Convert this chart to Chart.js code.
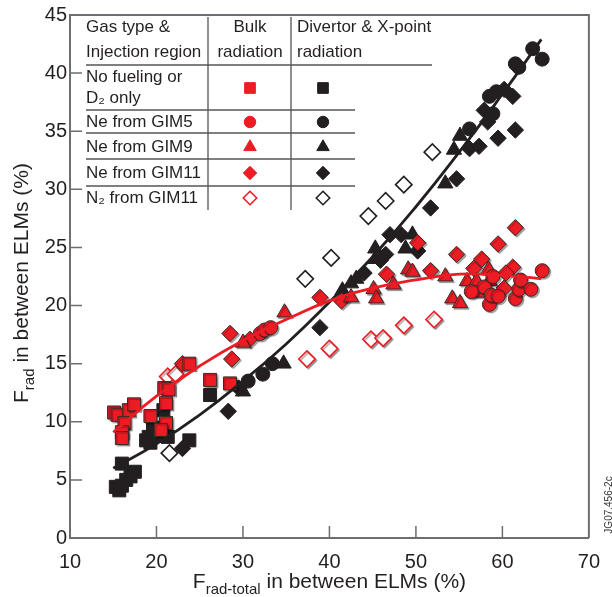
<!DOCTYPE html>
<html>
<head>
<meta charset="utf-8">
<script src="https://cdn.jsdelivr.net/npm/chart.js@4/dist/chart.umd.min.js"></script>
<style>
  html, body { margin: 0; padding: 0; background: #fff; }
  #wrap { position: relative; width: 612px; height: 597px; }
</style>
</head>
<body>
<div id="wrap"><canvas id="chart" width="612" height="597"></canvas></div>
<script>
// Ejes
const xTicks = [10, 20, 30, 40, 50, 60, 70];
const yTicks = [0, 5, 10, 15, 20, 25, 30, 35, 40, 45];

// Radiación en el bulk (rojo)  [F_rad-total, F_rad]
const bulkNoFuel = [[15.1,10.8],[15.5,10.6],[16.8,11.0],[17.4,11.5],[16.3,9.9],[16.0,9.1],[16.0,8.6],[19.3,10.5],[20.9,12.9],[21.4,12.8],[21.1,11.6],[21.1,9.9],[20.5,9.3],[23.8,15.0],[26.2,13.6],[28.5,13.3]];
const bulkNeGIM5 = [[32.0,17.6],[32.5,17.9],[33.2,18.1],[56.4,21.2],[57.9,21.6],[58.5,20.1],[58.7,20.9],[59.5,20.8],[58.9,22.5],[61.5,20.6],[61.9,21.4],[62.1,22.2],[63.3,21.4],[64.6,23.0]];
const bulkNeGIM9 = [[30.0,16.8],[34.8,19.4],[42.5,20.7],[45.1,21.4],[45.4,20.6],[47.4,21.8],[49.1,23.1],[49.6,22.9],[53.4,22.5],[54.2,20.6],[55.1,20.2],[55.9,22.1],[57.0,22.1],[58.5,22.1],[58.4,23.1],[57.3,21.1]];
const bulkNeGIM11 = [[23.0,15.0],[28.5,17.6],[28.7,15.4],[30.8,17.1],[38.9,20.7],[41.4,20.4],[46.6,22.7],[50.2,25.4],[51.7,23.0],[54.7,24.4],[56.7,23.2],[57.6,24.0],[59.5,25.3],[61.5,26.7],[61.2,23.3],[60.4,22.8],[60.2,21.5]];
const bulkN2GIM11 = [[21.3,13.9],[22.2,14.1],[37.4,15.4],[40.0,16.3],[44.8,17.1],[46.2,17.2],[48.6,18.3],[52.1,18.8]];

// Radiación divertor y punto X (negro)
const divNoFuel = [[15.3,4.4],[15.7,4.1],[16.0,4.5],[16.5,5.0],[17.0,5.3],[17.5,5.7],[16.0,6.4],[18.8,8.4],[19.1,8.7],[19.8,8.8],[19.3,8.2],[19.6,9.5],[20.8,11.0],[21.3,8.7],[23.8,8.4],[26.2,12.3]];
const divNeGIM5 = [[30.6,13.5],[32.3,14.1],[33.4,15.0],[56.2,35.2],[58.9,36.5],[58.5,38.0],[59.3,38.4],[61.5,40.8],[61.9,40.5],[63.5,42.1],[64.6,41.2]];
const divNeGIM9 = [[30.0,12.6],[34.7,15.0],[41.5,21.3],[42.5,21.9],[43.1,22.3],[45.3,24.9],[45.3,24.0],[48.8,24.9],[49.6,26.1],[53.4,30.5],[54.4,33.4],[55.1,34.6]];
const divNeGIM11 = [[23.0,7.7],[28.3,10.9],[29.5,12.9],[38.9,18.1],[44.0,22.8],[45.9,23.9],[46.5,24.4],[47.0,26.1],[48.3,26.1],[50.2,24.7],[51.7,28.4],[54.7,30.9],[56.2,33.5],[57.3,33.7],[57.9,36.8],[58.3,35.8],[59.5,34.4],[61.5,35.1],[60.2,38.6],[61.2,38.0]];
const divN2GIM11 = [[21.5,7.3],[37.2,22.3],[40.2,24.1],[44.5,27.7],[46.5,29.0],[48.6,30.4],[51.9,33.2]];

// Curvas de ajuste
const fitX = [15, 20, 25, 30, 35, 40, 45, 50, 55, 60, 64.5];
const fitBulkY = [9.1, 12.2, 14.8, 17.0, 18.8, 20.4, 21.5, 22.2, 22.7, 22.6, 22.3];
const fitDivY = [6.0, 8.1, 10.6, 13.5, 16.7, 20.3, 24.2, 28.5, 33.2, 38.2, 42.9];

// Tabla de leyenda
const legendRows = [
  { text: ['No fueling or', 'D\u2082 only'], style: 'rect', open: false },
  { text: ['Ne from GIM5'], style: 'circle', open: false },
  { text: ['Ne from GIM9'], style: 'triangle', open: false },
  { text: ['Ne from GIM11'], style: 'rectRot', open: false },
  { text: ['N\u2082 from GIM11'], style: 'rectRot', open: true }
];

const RED = '#ed1c24';
const BLACK = '#231f20';
const AXIS = '#6d6e71';
const FONT = 'Arial, "Liberation Sans", Helvetica, sans-serif';
const SIZES = { rect: 9.2, circle: 7, triangle: 8.8, rectRot: 8.2 };

const toPts = (arr) => arr.map(p => ({ x: p[0], y: p[1] }));
const fitPts = (ys) => fitX.map((x, i) => ({ x: x, y: ys[i] }));

function markerSet(data, style, color, open) {
  return {
    type: 'scatter',
    data: toPts(data),
    pointStyle: style,
    pointRadius: SIZES[style],
    pointHoverRadius: SIZES[style],
    backgroundColor: open ? '#ffffff' : color,
    borderColor: open ? color : (color === RED ? '#3a2a2a' : BLACK),
    borderWidth: open ? 1.6 : 1,
    isRed: color === RED
  };
}

function fitSet(ys, color) {
  return {
    type: 'line',
    data: fitPts(ys),
    borderColor: color,
    borderWidth: 2.8,
    pointRadius: 0,
    fill: false,
    tension: 0.5
  };
}

// Símbolo para la tabla (misma geometría que Chart.js)
function drawSymbol(c, style, x, y, r, fill, stroke, lw) {
  c.beginPath();
  if (style === 'rect') {
    const s = Math.SQRT1_2 * r;
    c.rect(x - s, y - s, 2 * s, 2 * s);
  } else if (style === 'circle') {
    c.arc(x, y, r, 0, Math.PI * 2);
  } else if (style === 'triangle') {
    for (let k = 0; k < 3; k++) {
      const a = k * 2 * Math.PI / 3;
      const px = x + Math.sin(a) * r, py = y - Math.cos(a) * r;
      if (k === 0) c.moveTo(px, py); else c.lineTo(px, py);
    }
    c.closePath();
  } else {
    c.moveTo(x, y - r); c.lineTo(x + r, y); c.lineTo(x, y + r); c.lineTo(x - r, y); c.closePath();
  }
  c.fillStyle = fill; c.fill();
  c.lineWidth = lw; c.strokeStyle = stroke; c.stroke();
}

// Texto con subíndice
function drawRich(c, parts, cx, cy) {
  let w = 0;
  parts.forEach(p => { c.font = p.size + 'px ' + FONT; p.w = c.measureText(p.t).width; w += p.w; });
  let x = cx - w / 2;
  c.textAlign = 'left';
  c.textBaseline = 'alphabetic';
  parts.forEach(p => {
    c.font = p.size + 'px ' + FONT;
    c.fillText(p.t, x, cy + (p.dy || 0));
    x += p.w;
  });
}

const shadowPlugin = {
  id: 'shadowPlugin',
  beforeDatasetDraw(chart, args) {
    const ds = chart.data.datasets[args.index];
    if (!ds.isRed) return;
    const c = chart.ctx;
    c.save();
    c.shadowColor = 'rgba(0,0,0,0.35)';
    c.shadowOffsetX = 1.5;
    c.shadowOffsetY = 1.5;
    c.shadowBlur = 1;
  },
  afterDatasetDraw(chart, args) {
    const ds = chart.data.datasets[args.index];
    if (ds.isRed) chart.ctx.restore();
  }
};

const overlay = {
  id: 'overlay',
  afterDraw(chart) {
    const c = chart.ctx;
    const a = chart.chartArea;
    const xs = chart.scales.x, ys = chart.scales.y;
    c.save();

    // Marco superior y derecho
    c.strokeStyle = AXIS;
    c.lineWidth = 2;
    c.beginPath();
    c.moveTo(a.left, a.top); c.lineTo(a.right, a.top); c.lineTo(a.right, a.bottom);
    c.stroke();

    // Marcas hacia dentro
    c.lineWidth = 1.5;
    c.beginPath();
    xTicks.slice(1, -1).forEach(v => {
      const px = xs.getPixelForValue(v);
      c.moveTo(px, a.bottom); c.lineTo(px, a.bottom - 12);
    });
    yTicks.slice(1, -1).forEach(v => {
      const py = ys.getPixelForValue(v);
      c.moveTo(a.left, py); c.lineTo(a.left + 12, py);
    });
    c.stroke();

    // Títulos de ejes
    c.fillStyle = '#231f20';
    drawRich(c, [
      { t: 'F', size: 21 },
      { t: 'rad-total', size: 15, dy: 6 },
      { t: ' in between ELMs (%)', size: 21 }
    ], (a.left + a.right) / 2, 588);
    c.save();
    c.translate(28, 283);
    c.rotate(-Math.PI / 2);
    drawRich(c, [
      { t: 'F', size: 21 },
      { t: 'rad', size: 15, dy: 6 },
      { t: ' in between ELMs (%)', size: 21 }
    ], 0, 0);
    c.restore();

    // Código de figura
    c.save();
    c.translate(609, 505);
    c.rotate(-Math.PI / 2);
    c.font = '10px ' + FONT;
    c.textAlign = 'center';
    c.textBaseline = 'middle';
    c.fillStyle = '#333';
    c.fillText('JG07.456-2c', 0, 0);
    c.restore();

    // Tabla de leyenda
    const col1 = 86, vl1 = 208, vl2 = 291, redX = 250, blackX = 323;
    c.strokeStyle = '#555';
    c.lineWidth = 1.3;
    c.beginPath();
    c.moveTo(vl1, 17); c.lineTo(vl1, 210);
    c.moveTo(vl2, 17); c.lineTo(vl2, 210);
    c.moveTo(col1, 65); c.lineTo(432, 65);
    [110, 133, 159, 186].forEach(y => { c.moveTo(col1, y); c.lineTo(355, y); });
    c.stroke();

    c.font = '17px ' + FONT;
    c.fillStyle = '#231f20';
    c.textBaseline = 'middle';
    c.textAlign = 'left';
    c.fillText('Gas type &', col1, 27);
    c.fillText('Injection region', col1, 52);
    c.fillText('Divertor & X-point', 297, 27);
    c.fillText('radiation', 297, 52);
    c.textAlign = 'center';
    c.fillText('Bulk', redX, 27);
    c.fillText('radiation', redX, 52);

    const rowY = [88, 122, 147, 173, 198];
    const textY = [[77, 98], [122], [147], [173], [198]];
    legendRows.forEach((row, i) => {
      c.textAlign = 'left';
      c.fillStyle = '#231f20';
      row.text.forEach((t, j) => c.fillText(t, col1, textY[i][j]));
      const r = SIZES[row.style] * 0.82;
      if (row.open) {
        drawSymbol(c, row.style, redX, rowY[i], r, '#fff', RED, 1.6);
        drawSymbol(c, row.style, blackX, rowY[i], r, '#fff', BLACK, 1.6);
      } else {
        drawSymbol(c, row.style, redX, rowY[i], r, RED, RED, 1);
        drawSymbol(c, row.style, blackX, rowY[i], r, BLACK, BLACK, 1);
      }
    });

    c.restore();
  }
};

new Chart(document.getElementById('chart').getContext('2d'), {
  type: 'scatter',
  data: {
    datasets: [
      fitSet(fitBulkY, RED),
      fitSet(fitDivY, BLACK),
      markerSet(bulkNoFuel, 'rect', RED, false),
      markerSet(bulkNeGIM5, 'circle', RED, false),
      markerSet(bulkNeGIM9, 'triangle', RED, false),
      markerSet(bulkNeGIM11, 'rectRot', RED, false),
      markerSet(bulkN2GIM11, 'rectRot', RED, true),
      markerSet(divNoFuel, 'rect', BLACK, false),
      markerSet(divNeGIM5, 'circle', BLACK, false),
      markerSet(divNeGIM9, 'triangle', BLACK, false),
      markerSet(divNeGIM11, 'rectRot', BLACK, false),
      markerSet(divN2GIM11, 'rectRot', BLACK, true)
    ]
  },
  options: {
    responsive: false,
    animation: false,
    events: [],
    layout: { padding: { left: 0, right: 12, top: 12, bottom: 0 } },
    plugins: { legend: { display: false }, tooltip: { enabled: false } },
    scales: {
      x: {
        type: 'linear', min: 10, max: 70,
        afterBuildTicks: (s) => { s.ticks = xTicks.map(v => ({ value: v })); },
        afterFit: (s) => { s.height = 59; },
        grid: { display: false, drawTicks: false },
        border: { display: true, color: AXIS, width: 2 },
        ticks: { color: '#231f20', font: { size: 20, family: FONT }, padding: 12, maxRotation: 0 }
      },
      y: {
        type: 'linear', min: 0, max: 45,
        afterBuildTicks: (s) => { s.ticks = yTicks.map(v => ({ value: v })); },
        afterFit: (s) => { s.width = 70; },
        grid: { display: false, drawTicks: false },
        border: { display: true, color: AXIS, width: 2 },
        ticks: { color: '#231f20', font: { size: 20, family: FONT }, padding: 3 }
      }
    }
  },
  plugins: [shadowPlugin, overlay]
});
</script>
</body>
</html>
